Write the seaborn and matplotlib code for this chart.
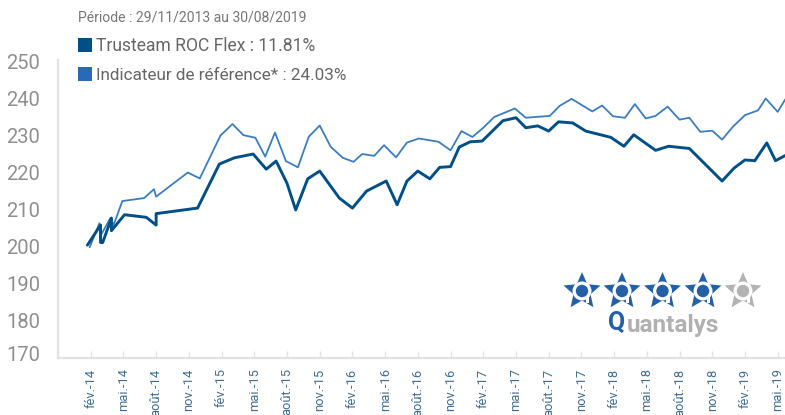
import numpy as np
import pandas as pd
import matplotlib
matplotlib.use('Agg')
import matplotlib.pyplot as plt
from matplotlib.patches import Circle, Rectangle
from matplotlib.transforms import ScaledTranslation
import seaborn as sns

# x in months after fev-14 (points go backwards at a few places, as in the source)
fund_x = [-0.3, 0.9, 0.9, 1.1, 1.9, 1.9, 3.1, 5.1, 6.0, 6.0, 9.8, 11.8, 13.2, 14.9, 16.1, 17.0, 18.0, 18.8,
          19.9, 21.0, 22.8, 24.0, 25.3, 27.1, 28.1, 29.0, 30.0, 31.1, 32.0, 33.0, 33.8, 34.8, 35.9, 37.8,
          39.0, 39.9, 41.0, 42.0, 42.9, 44.2, 45.4, 47.7, 48.9, 49.8, 51.8, 53.0, 54.9, 57.9, 59.0, 60.0,
          60.9, 62.0, 62.8, 63.7]
fund_y = [200.5, 205.9, 201.2, 201.2, 207.8, 204.4, 208.7, 208.0, 205.9, 209.0, 210.5, 222.4, 224.1, 225.1,
          221.0, 223.2, 217.2, 210.0, 218.4, 220.5, 213.2, 210.5, 215.1, 217.8, 211.4, 217.8, 220.5, 218.4,
          221.5, 221.7, 227.0, 228.4, 228.6, 234.1, 234.9, 232.2, 232.7, 231.3, 233.8, 233.5, 231.3, 229.6,
          227.2, 230.3, 226.1, 227.2, 226.6, 217.8, 221.3, 223.5, 223.3, 228.1, 223.3, 224.7]

ref_x = [-0.1, 0.8, 0.9, 1.8, 2.1, 2.9, 4.9, 5.8, 6.0, 8.9, 10.0, 11.9, 13.0, 14.0, 15.1, 16.0, 16.9, 17.9,
         19.0, 20.0, 21.0, 22.0, 23.1, 24.1, 24.9, 26.0, 26.9, 28.0, 29.0, 30.1, 31.9, 33.0, 34.0, 35.0,
         36.0, 37.0, 38.9, 39.9, 42.1, 43.0, 44.1, 46.0, 46.9, 47.9, 49.0, 49.9, 50.9, 51.8, 52.9, 54.0,
         54.9, 55.9, 57.0, 57.9, 58.9, 60.0, 61.2, 61.9, 63.0, 63.7]
ref_y = [199.9, 206.4, 203.0, 207.8, 205.9, 212.4, 213.2, 215.6, 213.6, 220.1, 218.5, 230.1, 233.2, 230.2,
         229.5, 224.4, 230.9, 223.2, 221.5, 229.8, 232.8, 227.1, 224.1, 223.0, 225.1, 224.6, 227.5, 224.2,
         228.2, 229.3, 228.4, 226.1, 231.3, 229.7, 232.2, 235.1, 237.4, 234.9, 235.4, 238.1, 240.0, 236.6,
         238.2, 235.3, 234.9, 238.6, 234.7, 235.4, 237.9, 234.4, 234.9, 231.1, 231.4, 229.0, 232.5, 235.6,
         236.9, 240.1, 236.5, 239.9]

tick_labels = ['fév.-14', 'mai.-14', 'août.-14', 'nov.-14', 'fév.-15', 'mai.-15', 'août.-15', 'nov.-15',
               'fév.-16', 'mai.-16', 'août.-16', 'nov.-16', 'fév.-17', 'mai.-17', 'août.-17', 'nov.-17',
               'fév.-18', 'mai.-18', 'août.-18', 'nov.-18', 'fév.-19', 'mai.-19']
y_ticks = [170, 180, 190, 200, 210, 220, 230, 240, 250]

DARK = '#004f86'
LIGHT = '#3a7dc2'
GREY = '#8f8f8f'
AXIS = '#e2e2e2'

sns.set_style('white')
plt.rcParams['font.family'] = ['Roboto', 'DejaVu Sans']

W, H = 785, 415
fig = plt.figure(figsize=(W / 100, H / 100), dpi=100)
ax = fig.add_axes([58 / W, (H - 358) / H, (W - 58) / W, 298 / H])

fund = pd.DataFrame({'mois': fund_x, 'valeur': fund_y})
ref = pd.DataFrame({'mois': ref_x, 'valeur': ref_y})
sns.lineplot(data=ref, x='mois', y='valeur', sort=False, estimator=None, color=LIGHT, lw=1.3, ax=ax)
sns.lineplot(data=fund, x='mois', y='valeur', sort=False, estimator=None, color=DARK, lw=2.1, ax=ax)

ax.set_xlim(-3.0, 63.67)
ax.set_ylim(170, 250.5)
ax.set_xlabel('')
ax.set_ylabel('')
ax.set_xticks(np.arange(len(tick_labels)) * 3)
ax.set_xticklabels(tick_labels, rotation=90, ha='center', va='top', color='#3f6d92', fontsize=9.3)
ax.set_yticks(y_ticks)
ax.set_yticklabels(y_ticks, color=GREY, fontsize=14.5)
ax.set_yticks([170], minor=True)
ax.tick_params(axis='x', direction='in', length=5, width=1, color=AXIS, pad=7.5, bottom=True)
ax.tick_params(axis='y', which='major', length=0, pad=13)
ax.tick_params(axis='y', which='minor', length=4, width=1, color=AXIS, left=True)
sns.despine(ax=ax, top=True, right=True)
for side in ['left', 'bottom']:
    ax.spines[side].set_color(AXIS)
    ax.spines[side].set_linewidth(1.6)

# the 170 label sits a little above the axis line in the source
label_170 = ax.get_yticklabels()[0]
label_170.set_transform(label_170.get_transform() + ScaledTranslation(0, 3 / 72, fig.dpi_scale_trans))

# overlay in pixel coordinates for the header and the logo
over = fig.add_axes([0, 0, 1, 1], facecolor='none')
over.set_xlim(0, W)
over.set_ylim(H, 0)
over.axis('off')

over.text(78, 17, 'Période : 29/11/2013 au 30/08/2019', color='#777777', fontsize=10.05, va='center')
over.add_patch(Rectangle((78, 38), 14, 14, color='#004f86', lw=0))
over.text(96, 46, 'Trusteam ROC Flex : 11.81%', color='#666666', fontsize=12.65, va='center')
over.add_patch(Rectangle((78, 67), 14, 14, color='#2a69b5', lw=0))
over.text(96, 75, 'Indicateur de référence* : 24.03%', color='#666666', fontsize=12.35, va='center')


def star_points(cx, cy, r_out=19.4, r_in=9):
    ang = np.deg2rad(-90 + 36 * np.arange(10))
    r = np.where(np.arange(10) % 2 == 0, r_out, r_in)
    return np.column_stack([cx + r * np.cos(ang), cy + r * np.sin(ang)])


for cx, col in zip([582, 622, 662.5, 703, 743], ['#2460a8'] * 4 + ['#b3b3b3']):
    over.fill(*star_points(cx, 291.5).T, color=col, lw=0)
    over.add_patch(Circle((cx, 291), 9.5, color='white', lw=0))
    over.add_patch(Circle((cx, 291), 6.2, color=col, lw=0))
    over.add_patch(Rectangle((cx + 3.5, 296), 3.5, 7, color='white', lw=0))

over.text(608, 323, 'Q', color='#2460a8', fontsize=18, fontweight='bold', va='center')
over.text(627, 325, 'uantalys', color='#b0b0b0', fontsize=17.5, fontweight='bold', va='center')

fig.savefig('out.png', dpi=100)
